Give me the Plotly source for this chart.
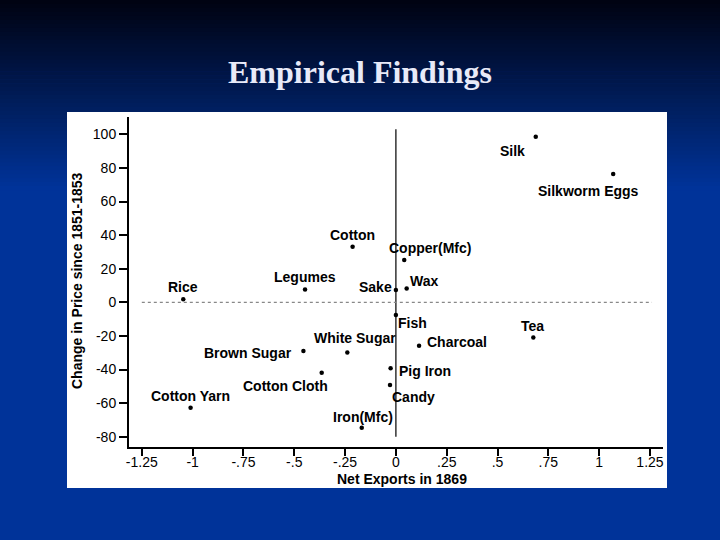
import plotly.graph_objects as go

# ---- data ----
goods = ["Silk", "Silkworm Eggs", "Cotton", "Copper(Mfc)", "Sake", "Wax", "Legumes",
         "Rice", "Fish", "Tea", "Charcoal", "White Sugar", "Brown Sugar", "Cotton Cloth",
         "Pig Iron", "Candy", "Cotton Yarn", "Iron(Mfc)"]
net_exports = [0.688, 1.069, -0.213, 0.041, 0.0, 0.053, -0.447,
               -1.046, 0.0, 0.676, 0.114, -0.239, -0.455, -0.365,
               -0.026, -0.029, -1.010, -0.168]
price_change = [98.6, 76.4, 33.1, 25.2, 7.3, 8.3, 7.7,
                1.9, -7.6, -20.9, -25.8, -29.8, -29.0, -41.9,
                -39.3, -49.2, -62.7, -74.6]

x_tickvals = [-1.25, -1, -0.75, -0.5, -0.25, 0, 0.25, 0.5, 0.75, 1, 1.25]
x_ticktext = ["-1.25", "-1", "-.75", "-.5", "-.25", "0", ".25", ".5", ".75", "1", "1.25"]
y_tickvals = [100, 80, 60, 40, 20, 0, -20, -40, -60, -80]
y_ticktext = ["100", "80", "60", "40", "20", "0", "-20", "-40", "-60", "-80"]

# label offsets in pixels (style)
label_offsets = {
    "Silk": (-23, -14), "Silkworm Eggs": (-25, -17), "Cotton": (0, 12),
    "Copper(Mfc)": (26, 12), "Sake": (-20, 3), "Wax": (17, 7), "Legumes": (0, 12),
    "Rice": (0, 12), "Fish": (17, -8), "Tea": (-1, 11), "Charcoal": (38, 4),
    "White Sugar": (8, 14), "Brown Sugar": (-55, -2), "Cotton Cloth": (-36, -13),
    "Pig Iron": (34, -3), "Candy": (23, -12), "Cotton Yarn": (0, 12), "Iron(Mfc)": (1, 11),
}

W, H = 720, 540
L, R, T, B = 129, 57, 117, 93
PW, PH = W - L - R, H - T - B

def px_to_paper_x(p):
    return (p - L) / PW

def px_to_paper_y(p):
    return (H - B - p) / PH

fig = go.Figure()
fig.add_trace(go.Scatter(
    x=net_exports, y=price_change, mode="markers",
    marker=dict(size=4.5, color="black"),
    text=goods, hoverinfo="text", showlegend=False, cliponaxis=False,
))

shapes = []
# background gradient (top part of slide)
n = 48
top_c = (0, 3, 18)
bot_c = (0, 51, 153)
grad_h = 190
for i in range(n):
    t = i / (n - 1)
    c = tuple(int(round(top_c[k] + (bot_c[k] - top_c[k]) * t)) for k in range(3))
    y0 = grad_h * i / n
    y1 = grad_h * (i + 1) / n + 0.6
    shapes.append(dict(type="rect", xref="paper", yref="paper", layer="below",
                       x0=px_to_paper_x(0), x1=px_to_paper_x(W),
                       y0=px_to_paper_y(y0), y1=px_to_paper_y(y1),
                       fillcolor=f"rgb{c}", line=dict(width=0)))
# white chart panel
shapes.append(dict(type="rect", xref="paper", yref="paper", layer="below",
                   x0=px_to_paper_x(67), x1=px_to_paper_x(667),
                   y0=px_to_paper_y(488), y1=px_to_paper_y(112),
                   fillcolor="white", line=dict(width=0)))
# reference lines
shapes.append(dict(type="line", xref="x", yref="y", x0=0, x1=0, y0=-80, y1=103,
                   line=dict(color="black", width=1.2)))
shapes.append(dict(type="line", xref="x", yref="y", x0=-1.25, x1=1.26, y0=0, y1=0,
                   line=dict(color="#888888", width=1.2, dash="dot")))

annotations = []
for g, xv, yv in zip(goods, net_exports, price_change):
    dx, dy = label_offsets[g]
    annotations.append(dict(x=xv, y=yv, xref="x", yref="y", text=f"<b>{g}</b>", showarrow=False,
                            xshift=dx, yshift=dy,
                            font=dict(family="Liberation Sans, Arial", size=14, color="black"),
                            xanchor="center", yanchor="middle"))
annotations.append(dict(x=px_to_paper_x(360), y=px_to_paper_y(72), xref="paper", yref="paper",
                        text="<b>Empirical Findings</b>", showarrow=False,
                        xanchor="center", yanchor="middle",
                        font=dict(family="Liberation Serif, Times New Roman", size=32,
                                  color="#e8eaf8")))
annotations.append(dict(x=px_to_paper_x(402), y=px_to_paper_y(479), xref="paper", yref="paper",
                        text="<b>Net Exports in 1869</b>", showarrow=False,
                        xanchor="center", yanchor="middle",
                        font=dict(family="Liberation Sans, Arial", size=14, color="black")))
annotations.append(dict(x=px_to_paper_x(77), y=px_to_paper_y(281), xref="paper", yref="paper",
                        text="<b>Change in Price since 1851-1853</b>", showarrow=False,
                        textangle=-90, xanchor="center", yanchor="middle",
                        font=dict(family="Liberation Sans, Arial", size=14, color="black")))

fig.update_layout(
    width=W, height=H, margin=dict(l=L, r=R, t=T, b=B, pad=0),
    paper_bgcolor="rgb(0,51,153)", plot_bgcolor="rgba(0,0,0,0)",
    shapes=shapes, annotations=annotations,
    xaxis=dict(range=[-1.313, 1.314], tickvals=x_tickvals, ticktext=x_ticktext,
               showgrid=False, zeroline=False, showline=True, linecolor="black", linewidth=2,
               ticks="outside", ticklen=7, tickwidth=1.5, tickcolor="black",
               ticklabelstandoff=-6,
               tickfont=dict(family="Liberation Sans, Arial", size=14, color="black")),
    yaxis=dict(range=[-86.1, 110.3], tickvals=y_tickvals, ticktext=y_ticktext,
               showgrid=False, zeroline=False, showline=True, linecolor="black", linewidth=2,
               ticks="outside", ticklen=8, tickwidth=1.5, tickcolor="black",
               tickfont=dict(family="Liberation Sans, Arial", size=14, color="black")),
    font=dict(family="Liberation Sans, Arial"),
)

fig.write_html("out.html", config={"displayModeBar": False},
               post_script="document.body.style.margin='0';document.body.style.overflow='hidden';document.documentElement.style.background='rgb(0,51,153)';")
